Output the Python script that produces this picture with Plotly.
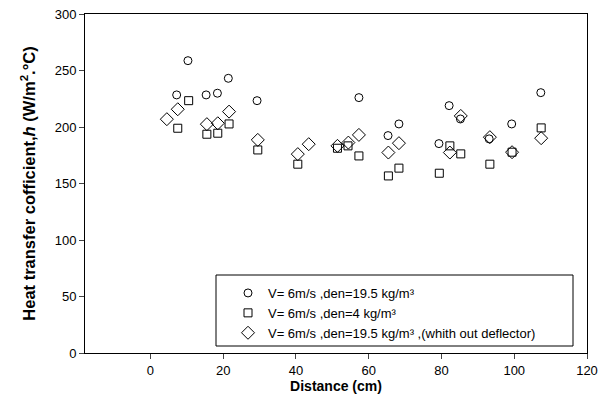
import plotly.graph_objects as go

# Data
circ_x = [7.2, 10.3, 15.3, 18.4, 21.4, 29.3, 57.3, 65.3, 68.3, 79.3, 82.1, 85.2, 93.1, 99.3, 107.3]
circ_y = [228.4, 258.7, 228.4, 229.9, 243.1, 223.3, 226.0, 192.4, 202.7, 185.3, 218.9, 207.1, 189.5, 202.7, 230.4]

sq_x = [7.5, 10.5, 15.5, 18.5, 21.6, 29.5, 40.5, 51.4, 54.3, 57.3, 65.4, 68.3, 79.4, 82.3, 85.3, 93.3, 99.4, 107.4]
sq_y = [198.9, 223.3, 193.6, 194.5, 202.7, 179.7, 167.1, 181.2, 183.3, 174.4, 156.7, 163.6, 159.1, 183.3, 176.2, 167.1, 177.7, 199.2]

dia_x = [4.5, 7.5, 15.5, 18.5, 21.6, 29.5, 40.5, 43.5, 51.4, 54.4, 57.3, 65.4, 68.3, 82.3, 85.3, 93.3, 99.4, 107.4]
dia_y = [206.9, 215.7, 202.5, 203.3, 213.6, 188.6, 176.0, 184.8, 183.3, 186.2, 193.0, 177.4, 185.7, 177.4, 209.8, 191.0, 177.7, 190.1]

names = [
    "V= 6m/s ,den=19.5 kg/m³",
    "V= 6m/s ,den=4 kg/m³",
    "V= 6m/s ,den=19.5 kg/m³ ,(whith out deflector)",
]

x_ticks = [0, 20, 40, 60, 80, 100, 120]
y_ticks = [0, 50, 100, 150, 200, 250, 300]

fig = go.Figure()
fig.add_trace(go.Scatter(x=circ_x, y=circ_y, mode="markers", name=names[0],
                         marker=dict(symbol="circle-open", size=8, color="black", line=dict(width=1))))
fig.add_trace(go.Scatter(x=sq_x, y=sq_y, mode="markers", name=names[1],
                         marker=dict(symbol="square-open", size=8, color="black", line=dict(width=1))))
fig.add_trace(go.Scatter(x=dia_x, y=dia_y, mode="markers", name=names[2],
                         marker=dict(symbol="diamond-open", size=10, color="black", line=dict(width=1))))

# page body keeps its default 8px margin, so the figure is offset by 8px
OFF = 8
W, H = 606 - OFF, 412 - OFF
L, R, T, B = 85 - OFF, 19, 14 - OFF, 59
PW, PH = W - L - R, H - T - B
Y0 = 412 - B  # screen y of the plot bottom


def px_x(x):
    return (x - 85) / PW


def px_y(y):
    return (Y0 - y) / PH


fig.update_layout(
    width=W, height=H,
    margin=dict(l=L, r=R, t=T, b=B, autoexpand=False),
    paper_bgcolor="white", plot_bgcolor="white",
    font=dict(family="Liberation Sans, Arial", size=13, color="black"),
    showlegend=True,
    legend=dict(x=px_x(228), y=px_y(278), xanchor="left", yanchor="top",
                bgcolor="rgba(0,0,0,0)", borderwidth=0,
                font=dict(size=13), tracegroupgap=0),
    shapes=[dict(type="rect", xref="paper", yref="paper",
                 x0=px_x(216), x1=px_x(573), y0=px_y(346), y1=px_y(275),
                 line=dict(color="black", width=1), fillcolor="white", layer="below")],
)
fig.update_xaxes(range=[-18, 120], tickvals=x_ticks, ticks="outside", ticklen=5,
                 showline=True, linecolor="black", linewidth=1, mirror=True,
                 showgrid=False, zeroline=False, automargin=False,
                 ticklabeloverflow="allow",
                 title=dict(text="<b>Distance (cm)</b>", font=dict(size=14), standoff=2))
fig.update_yaxes(range=[0, 300], tickvals=y_ticks, ticks="outside", ticklen=5,
                 showline=True, linecolor="black", linewidth=1, mirror=True,
                 showgrid=False, zeroline=False, automargin=False,
                 ticklabeloverflow="allow",
                 title=dict(text="<b>Heat transfer cofficient,<i>h</i> (W/m<sup>2</sup>.°C)</b>",
                            font=dict(size=16.5), standoff=14))

fig.write_html("out.html")
